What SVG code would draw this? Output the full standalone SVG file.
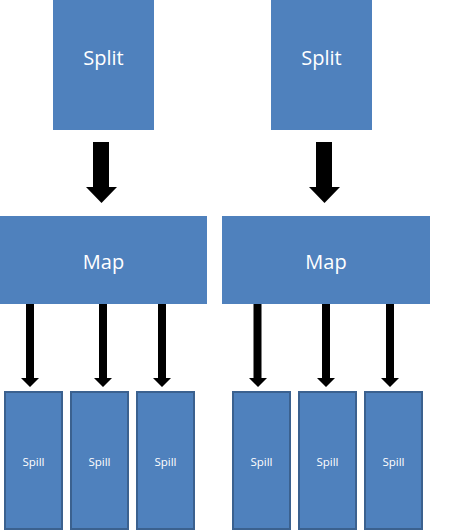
<svg xmlns="http://www.w3.org/2000/svg" width="460" height="531" viewBox="0 0 460 531">
<defs>
<style>
.box{fill:#4f81bd;}
.spill{fill:#4f81bd;stroke:#3b618f;stroke-width:2;}
.big{font-family:"Open Sans","Liberation Sans",sans-serif;font-size:20px;fill:#fff;text-anchor:middle;dominant-baseline:central;}
.small{font-family:"Open Sans","Liberation Sans",sans-serif;font-size:11.5px;fill:#fff;text-anchor:middle;dominant-baseline:central;}
.arr{fill:#000;}
</style>
</defs>
<rect width="460" height="531" fill="#fff"/>
<g id="split1"><rect class="box" x="53" y="0" width="101" height="130"/><text class="big" x="103.5" y="57">Split</text></g>
<g id="split2"><rect class="box" x="271" y="0" width="101" height="130"/><text class="big" x="321.5" y="57">Split</text></g>
<g id="map1"><rect class="box" x="0" y="216" width="207" height="88"/><text class="big" x="103.5" y="261">Map</text></g>
<g id="map2"><rect class="box" x="222" y="216" width="208" height="88"/><text class="big" x="326" y="261">Map</text></g>
<g id="spill1"><rect class="spill" x="5" y="392" width="57" height="137"/><text class="small" x="33.5" y="461">Spill</text></g>
<g id="spill2"><rect class="spill" x="71" y="392" width="57" height="137"/><text class="small" x="99.5" y="461">Spill</text></g>
<g id="spill3"><rect class="spill" x="137" y="392" width="57" height="137"/><text class="small" x="165.5" y="461">Spill</text></g>
<g id="spill4"><rect class="spill" x="233" y="392" width="57" height="137"/><text class="small" x="261.5" y="461">Spill</text></g>
<g id="spill5"><rect class="spill" x="299" y="392" width="57" height="137"/><text class="small" x="327.5" y="461">Spill</text></g>
<g id="spill6"><rect class="spill" x="365" y="392" width="57" height="137"/><text class="small" x="393.5" y="461">Spill</text></g>
<g id="connectors">
<polygon class="arr" points="93,142 109,142 109,187 117,187 101.5,203 86,187 93,187"/>
<polygon class="arr" points="316,142 332,142 332,187 340,187 324.5,203 309,187 316,187"/>
<polygon class="arr" points="26,304 34,304 34,378 39,378 30,387 21,378 26,378"/>
<polygon class="arr" points="99,304 107,304 107,378 112,378 103,387 94,378 99,378"/>
<polygon class="arr" points="158,304 166,304 166,378 171,378 162,387 153,378 158,378"/>
<polygon class="arr" points="253.5,304 261.5,304 261.5,378 267,378 258,387 249,378 253.5,378"/>
<polygon class="arr" points="322,304 330,304 330,378 335,378 326,387 317,378 322,378"/>
<polygon class="arr" points="386,304 394,304 394,378 399,378 390,387 381,378 386,378"/>
</g>
</svg>
